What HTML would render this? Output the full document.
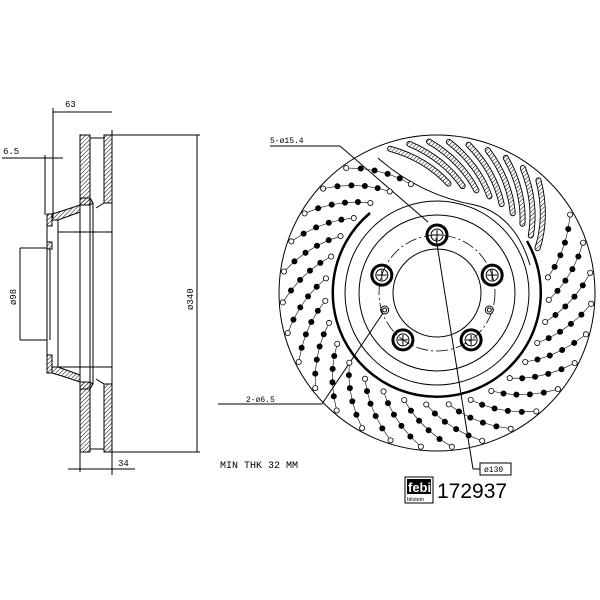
<!DOCTYPE html>
<html><head><meta charset="utf-8"><style>
html,body{margin:0;padding:0;background:#fff;}
svg{display:block;font-family:"Liberation Mono",monospace;}
</style></head><body>
<svg id="s" width="600" height="600" viewBox="0 0 600 600" xmlns="http://www.w3.org/2000/svg">
<defs>
<pattern id="h" width="3" height="3" patternUnits="userSpaceOnUse" patternTransform="rotate(45)">
<line x1="0" y1="0" x2="0" y2="3" stroke="#000" stroke-width="1"/></pattern>
</defs>
<g stroke="#000" fill="none" stroke-width="1">
<rect x="80" y="135" width="10" height="70" fill="url(#h)"/>
<rect x="104" y="135" width="8" height="68" fill="url(#h)"/>
<rect x="80" y="382" width="10" height="70" fill="url(#h)"/>
<rect x="104" y="384" width="8" height="68" fill="url(#h)"/>
<line x1="90" y1="138" x2="104" y2="138"/><line x1="90" y1="449" x2="104" y2="449"/>
<polygon points="80,205 90,205 93,203 90,198 80,198 80,205 62,211 52,214 52,220 58,220 80,212" fill="url(#h)"/>
<polygon points="80,382 90,382 93,384 90,389 80,389 80,382 62,376 52,373 52,367 58,367 80,375" fill="url(#h)"/>
<rect x="47" y="214" width="5" height="12" fill="url(#h)"/>
<rect x="47" y="242" width="5" height="7" fill="url(#h)"/>
<rect x="47" y="355" width="5" height="18" fill="url(#h)"/>
<line x1="47" y1="226" x2="47" y2="355"/><line x1="50" y1="249" x2="50" y2="340"/>
<line x1="58" y1="220" x2="58" y2="367"/>
<line x1="80" y1="212" x2="80" y2="375"/><line x1="90" y1="205" x2="90" y2="382"/>
<line x1="93" y1="203" x2="93" y2="384"/>
<line x1="104" y1="203" x2="96" y2="208"/><line x1="104" y1="384" x2="96" y2="379"/>
<line x1="58" y1="232" x2="112" y2="232"/><line x1="58" y1="367" x2="112" y2="367"/>
<line x1="112" y1="130" x2="112" y2="475"/>
<line x1="53" y1="108" x2="53" y2="218"/>
<line x1="53" y1="112" x2="112" y2="112"/>
<line x1="2" y1="158" x2="63" y2="158"/><line x1="45" y1="155" x2="45" y2="215"/>
<line x1="112" y1="135" x2="200" y2="135"/><line x1="112" y1="452" x2="200" y2="452"/>
<line x1="197" y1="135" x2="197" y2="452"/>
<line x1="20" y1="248" x2="20" y2="340"/>
<line x1="20" y1="248" x2="47" y2="248"/><line x1="20" y1="340" x2="47" y2="340"/>
<line x1="68" y1="469" x2="135" y2="469"/><line x1="80" y1="452" x2="80" y2="472"/>
<circle cx="437" cy="293" r="158"/>
<path d="M 370 213 A 104 104 0 1 0 527 241" stroke-width="2.5"/>
<circle cx="437" cy="293" r="92"/>
<circle cx="437" cy="293" r="78"/>
<circle cx="437" cy="293" r="58" stroke-dasharray="12,3,2,3" stroke-width="0.8"/>
<circle cx="437" cy="293" r="44"/>
<path d="M 378 158 Q 420 195 475 205 Q 515 215 530 265" />
<line x1="270" y1="146" x2="340" y2="146"/><line x1="340" y1="146" x2="428" y2="222"/>
<line x1="218" y1="404" x2="322" y2="404"/><line x1="322" y1="404" x2="383" y2="313"/>
<line x1="436" y1="238" x2="473" y2="469"/><line x1="473" y1="469" x2="480" y2="469"/>
<rect x="480" y="463" width="31" height="12"/>
<g id="dyn"></g>
</g>
<g font-size="9" fill="#000">
<text x="65" y="107">63</text>
<text x="3" y="154">6.5</text>
<text x="118" y="466">34</text>
<text transform="translate(16,305) rotate(-90)">ø98</text>
<text transform="translate(193,310) rotate(-90)">ø340</text>
<text x="270" y="143" font-size="8">5-ø15.4</text>
<text x="246" y="402" font-size="8">2-ø6.5</text>
<text x="484" y="472" font-size="8">ø130</text>
<text x="220" y="468" font-size="10">MIN THK 32 MM</text>
</g>
<g>
<rect x="405" y="477" width="28" height="26" fill="#fff" stroke="#000"/>
<rect x="407" y="479" width="24" height="15" fill="#000"/>
<text x="408" y="492" font-family="Liberation Sans,sans-serif" font-weight="bold" font-size="13" fill="#fff">febi</text>
<text x="407" y="501" font-family="Liberation Sans,sans-serif" font-size="5.5" fill="#000">bilstein</text>
<text x="437" y="498" font-family="Liberation Sans,sans-serif" font-size="21" fill="#000">172937</text>
</g>
</svg>
<script>
const g=document.getElementById('dyn');const NS='http://www.w3.org/2000/svg';
const cx=437,cy=293;
function el(t,a){const e=document.createElementNS(NS,t);for(const k in a)e.setAttribute(k,a[k]);g.appendChild(e);return e;}
[-90,-18,54,126,198].forEach(a=>{const r=a*Math.PI/180;const x=cx+58*Math.cos(r),y=cy+58*Math.sin(r);
el('circle',{cx:x,cy:y,r:10,'stroke-width':3});el('circle',{cx:x,cy:y,r:6});
el('line',{x1:x-5,y1:y,x2:x+5,y2:y});el('line',{x1:x,y1:y-5,x2:x,y2:y+5});});
[162,18].forEach(a=>{const r=a*Math.PI/180;const x=cx+55*Math.cos(r),y=cy+55*Math.sin(r);
el('circle',{cx:x,cy:y,r:4});el('circle',{cx:x,cy:y,r:2});});
for(let a0=-8;a0<=262;a0+=11.5){
 const pts=[];
 for(let i=0;i<6;i++){const rr=112+i*8.5;const a=(a0-i*4.5)*Math.PI/180;pts.push([cx+rr*Math.cos(a),cy+rr*Math.sin(a)]);}
 el('polyline',{points:pts.map(p=>p.join(',')).join(' '),'stroke-width':0.6});
 pts.forEach((p,i)=>el('circle',{cx:p[0],cy:p[1],r:2.6,fill:(i==0||i==5)?'#fff':'#000','stroke-width':0.8}));
}
for(let k=0;k<9;k++){
 const a0=-84+k*7.5;const pts=[];
 for(let i=0;i<=8;i++){const rr=110+i*5.2;const a=(a0-i*3)*Math.PI/180;pts.push([cx+rr*Math.cos(a),cy+rr*Math.sin(a)]);}
 const d='M'+pts.map(p=>p.join(',')).join(' L');
 el('path',{d:d,'stroke-width':6,'stroke-linecap':'round'});
 el('path',{d:d,'stroke-width':4.2,stroke:'#fff','stroke-linecap':'round'});
 el('path',{d:d,'stroke-width':4.2,stroke:'url(#h)','stroke-linecap':'round'});
}
</script>
</body></html>
